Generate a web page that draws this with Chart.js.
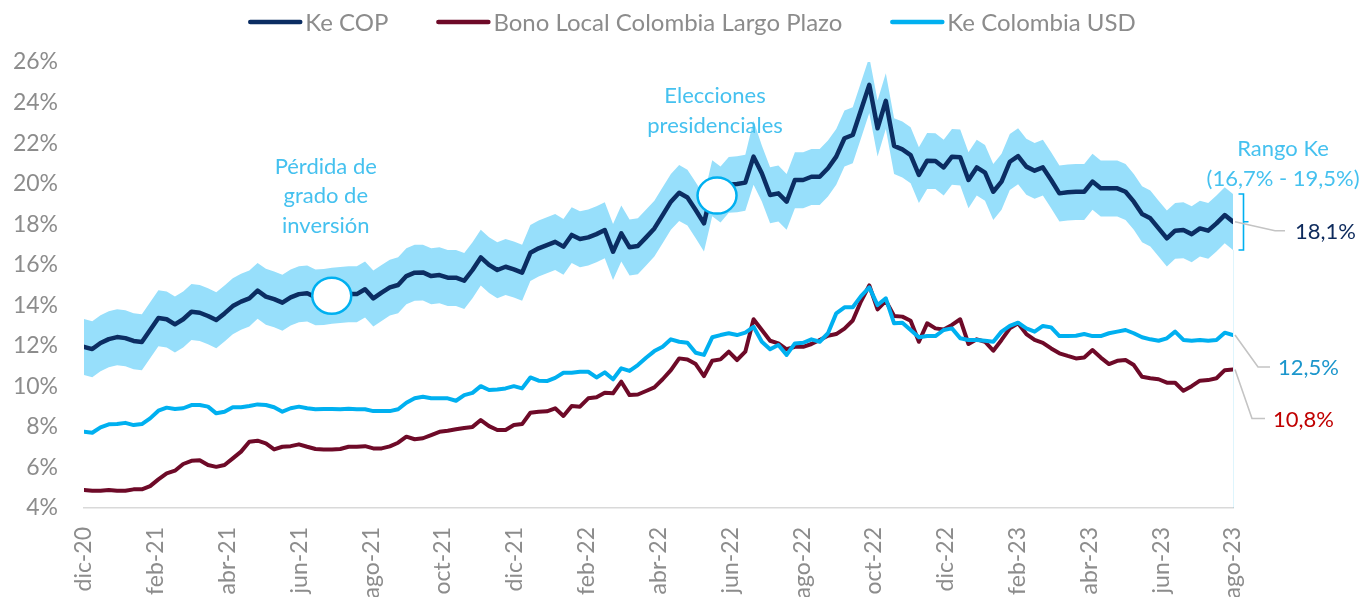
<!DOCTYPE html>
<html><head><meta charset="utf-8">
<script src="https://cdn.jsdelivr.net/npm/chart.js@4.4.1/dist/chart.umd.min.js"></script>
<style>html,body{margin:0;padding:0;background:#fff;overflow:hidden}#wrap{width:1361px;height:597px;position:relative}</style>
</head><body><div id="wrap"><canvas id="c"></canvas></div>
<script>
const monthLabels = ['dic-20','feb-21','abr-21','jun-21','ago-21','oct-21','dic-21','feb-22','abr-22','jun-22','ago-22','oct-22','dic-22','feb-23','abr-23','jun-23','ago-23'];
const spanMonths = 32;

const keCOP = [11.95,11.84,12.14,12.33,12.43,12.38,12.24,12.19,12.78,13.37,
13.31,13.06,13.31,13.68,13.63,13.47,13.27,13.60,13.96,14.18,
14.34,14.72,14.43,14.30,14.13,14.39,14.55,14.59,14.40,14.42,
14.48,14.52,14.55,14.55,14.79,14.34,14.62,14.88,15.00,15.44,
15.61,15.62,15.44,15.49,15.36,15.36,15.21,15.74,16.36,15.99,
15.74,15.90,15.77,15.61,16.59,16.81,16.97,17.13,16.89,17.47,
17.27,17.35,17.51,17.71,16.64,17.55,16.86,16.92,17.35,17.79,
18.45,19.11,19.55,19.32,18.70,18.04,19.78,19.47,19.95,19.98,
20.05,21.33,20.51,19.44,19.52,19.11,20.18,20.18,20.34,20.34,
20.76,21.33,22.24,22.40,23.63,24.87,22.73,24.08,21.86,21.69,
21.41,20.43,21.13,21.12,20.80,21.33,21.30,20.18,20.80,20.54,
19.60,20.10,21.08,21.36,20.84,20.64,20.80,20.18,19.52,19.57,
19.60,19.60,20.10,19.77,19.77,19.77,19.60,19.11,18.50,18.29,
17.79,17.30,17.68,17.71,17.51,17.79,17.68,18.04,18.45,18.12];

const rangoAlto = [13.32,13.21,13.51,13.70,13.80,13.75,13.61,13.56,14.15,14.74,
14.68,14.43,14.68,15.05,15.00,14.84,14.64,14.97,15.33,15.55,
15.71,16.09,15.80,15.67,15.50,15.76,15.92,15.96,15.77,15.79,
15.85,15.89,15.92,15.92,16.16,15.71,15.99,16.25,16.37,16.81,
16.98,16.99,16.81,16.86,16.73,16.73,16.58,17.11,17.73,17.36,
17.11,17.27,17.14,16.98,17.96,18.18,18.34,18.50,18.26,18.84,
18.64,18.72,18.88,19.08,18.01,18.92,18.23,18.29,18.72,19.16,
19.82,20.48,20.92,20.69,20.07,19.41,21.15,20.84,21.32,21.35,
21.42,23.10,21.88,20.81,20.89,20.48,21.55,21.55,21.71,21.71,
22.13,22.70,23.61,23.77,25.00,26.24,24.10,25.45,23.23,23.06,
22.78,21.80,22.50,22.49,22.17,22.70,22.67,21.55,22.17,21.91,
20.97,21.47,22.45,22.73,22.21,22.01,22.17,21.55,20.89,20.94,
20.97,20.97,21.47,21.14,21.14,21.14,20.97,20.48,19.87,19.66,
19.16,18.67,19.05,19.08,18.88,19.16,19.05,19.41,19.82,19.49];

const rangoBajo = [10.56,10.45,10.75,10.94,11.04,10.99,10.85,10.80,11.39,11.98,
11.92,11.67,11.92,12.29,12.24,12.08,11.88,12.21,12.57,12.79,
12.95,13.33,13.04,12.91,12.74,13.00,13.16,13.20,13.01,13.03,
13.09,13.13,13.16,13.16,13.40,12.95,13.23,13.49,13.61,14.05,
14.22,14.23,14.05,14.10,13.97,13.97,13.82,14.35,14.97,14.60,
14.35,14.51,14.38,14.22,15.20,15.42,15.58,15.74,15.50,16.08,
15.88,15.96,16.12,16.32,15.25,16.16,15.47,15.53,15.96,16.40,
17.06,17.72,18.16,17.93,17.31,16.65,18.39,18.08,18.56,18.59,
18.66,19.94,19.12,18.05,18.13,17.72,18.79,18.79,18.95,18.95,
19.37,19.94,20.85,21.01,22.24,23.48,21.34,22.69,20.47,20.30,
20.02,19.04,19.74,19.73,19.41,19.94,19.91,18.79,19.41,19.15,
18.21,18.71,19.69,19.97,19.45,19.25,19.41,18.79,18.13,18.18,
18.21,18.21,18.71,18.38,18.38,18.38,18.21,17.72,17.11,16.90,
16.40,15.91,16.29,16.32,16.12,16.40,16.29,16.65,17.06,16.73];

const keUSD = [7.76,7.71,7.98,8.13,8.14,8.20,8.09,8.14,8.42,8.80,
8.95,8.88,8.92,9.08,9.08,9.00,8.67,8.75,8.97,8.97,
9.03,9.11,9.08,8.97,8.75,8.92,9.00,8.92,8.87,8.88,
8.88,8.87,8.90,8.87,8.87,8.78,8.78,8.78,8.87,9.19,
9.41,9.49,9.41,9.41,9.41,9.29,9.57,9.68,10.01,9.82,
9.85,9.90,10.01,9.90,10.44,10.28,10.26,10.42,10.67,10.67,
10.72,10.72,10.44,10.69,10.35,10.89,10.76,11.05,11.41,11.74,
11.95,12.32,12.20,12.15,11.66,11.55,12.42,12.53,12.62,12.53,
12.65,12.94,12.20,11.83,12.04,11.55,12.12,12.15,12.32,12.20,
12.62,13.60,13.90,13.90,14.45,14.88,14.01,14.34,13.11,13.14,
12.78,12.42,12.48,12.48,12.78,12.86,12.37,12.29,12.29,12.25,
12.20,12.70,12.98,13.14,12.86,12.70,12.98,12.91,12.48,12.48,
12.50,12.58,12.48,12.48,12.62,12.70,12.78,12.62,12.42,12.32,
12.25,12.37,12.70,12.29,12.25,12.29,12.25,12.29,12.65,12.53];

const bonoLocal = [4.89,4.85,4.85,4.89,4.85,4.85,4.92,4.92,5.08,5.41,
5.71,5.84,6.17,6.33,6.36,6.12,6.03,6.12,6.45,6.78,
7.27,7.32,7.19,6.89,7.02,7.05,7.14,7.02,6.91,6.89,
6.89,6.91,7.02,7.02,7.05,6.94,6.94,7.04,7.22,7.52,
7.39,7.44,7.60,7.76,7.81,7.88,7.95,8.00,8.34,8.04,
7.85,7.85,8.09,8.14,8.70,8.75,8.77,8.92,8.54,9.03,
9.00,9.41,9.46,9.69,9.66,10.23,9.57,9.60,9.77,9.95,
10.35,10.80,11.38,11.33,11.10,10.51,11.26,11.33,11.71,11.30,
11.71,13.31,12.78,12.25,12.12,11.83,11.95,11.95,12.09,12.29,
12.50,12.58,12.85,13.25,14.20,14.98,13.80,14.22,13.47,13.44,
13.24,12.20,13.11,12.86,12.81,13.03,13.31,12.09,12.32,12.20,
11.76,12.29,12.86,13.11,12.58,12.29,12.15,11.87,11.63,11.50,
11.38,11.42,11.79,11.42,11.10,11.26,11.30,11.05,10.47,10.40,
10.35,10.18,10.18,9.78,10.01,10.28,10.31,10.40,10.80,10.83];

const seriesNames = ['Ke COP','Bono Local Colombia Largo Plazo','Ke Colombia USD'];
const eventNotes = [
  {x: 6.9, y: 14.47, lines: ['Pérdida de','grado de','inversión'], dx: -6},
  {x: 17.63, y: 19.41, lines: ['Elecciones','presidenciales'], dx: -2}
];

const C_NAVY = '#0b2d62', C_MAROON = '#6e0a28', C_CYAN = '#00b0f0', C_BAND = '#97dffb';
const C_NOTE = '#45c1ef', C_GRAY = '#8c8c8c';
const FONT = 'Lato';

const xAt = i => i * spanMonths / (keCOP.length - 1);
const pts = arr => arr.map((v, i) => ({x: xAt(i), y: v}));
const pct = v => v.toFixed(1).replace('.', ',') + '%';

Chart.defaults.font.family = FONT;

const annot = {
  id: 'annot',
  afterDraw(chart) {
    const ctx = chart.ctx, xs = chart.scales.x, ys = chart.scales.y, ca = chart.chartArea;
    const last = keCOP.length - 1;
    ctx.save();
    // faint right edge
    ctx.strokeStyle = 'rgba(0,176,240,0.13)';
    ctx.lineWidth = 1;
    ctx.beginPath();
    ctx.moveTo(ca.right + 0.5, ys.getPixelForValue(rangoBajo[last]));
    ctx.lineTo(ca.right + 0.5, ca.bottom);
    ctx.stroke();

    // legend
    const items = [[seriesNames[0], C_NAVY], [seriesNames[1], C_MAROON], [seriesNames[2], C_CYAN]];
    ctx.font = '24px ' + FONT;
    const lineLen = 52, gap = 5, spacing = 48;
    const widths = items.map(it => lineLen + gap + ctx.measureText(it[0]).width);
    const total = widths.reduce((a, b) => a + b, 0) + spacing * (items.length - 1);
    let lx = 692 - total / 2;
    const ly = 22;
    ctx.textBaseline = 'middle';
    ctx.textAlign = 'left';
    items.forEach((it, k) => {
      ctx.strokeStyle = it[1];
      ctx.lineWidth = 4.5;
      ctx.lineCap = 'round';
      ctx.beginPath();
      ctx.moveTo(lx + 2, ly);
      ctx.lineTo(lx + lineLen, ly);
      ctx.stroke();
      ctx.fillStyle = C_GRAY;
      ctx.fillText(it[0], lx + lineLen + gap, ly + 1);
      lx += widths[k] + spacing;
    });

    // event circles + notes
    eventNotes.forEach(n => {
      const cx = xs.getPixelForValue(n.x), cy = ys.getPixelForValue(n.y);
      ctx.beginPath();
      ctx.ellipse(cx, cy, 19.5, 18, 0, 0, Math.PI * 2);
      ctx.fillStyle = '#fff';
      ctx.fill();
      ctx.strokeStyle = C_CYAN;
      ctx.lineWidth = 2.5;
      ctx.stroke();
      ctx.font = '22px ' + FONT;
      ctx.fillStyle = C_NOTE;
      ctx.textAlign = 'center';
      const L = n.lines.length;
      n.lines.forEach((t, k) => {
        ctx.fillText(t, cx + n.dx, cy - 70 - (L - 1 - k) * 29.5);
      });
    });

    // range bracket
    const yTop = ys.getPixelForValue(rangoAlto[last]);
    const yBot = ys.getPixelForValue(rangoBajo[last]);
    const yMid = ys.getPixelForValue(keCOP[last]);
    const bx = ca.right + 10.5;
    ctx.strokeStyle = C_CYAN;
    ctx.lineWidth = 1.6;
    ctx.lineCap = 'butt';
    ctx.beginPath();
    ctx.moveTo(bx - 5, yTop); ctx.lineTo(bx, yTop); ctx.lineTo(bx, yBot); ctx.lineTo(bx - 5, yBot);
    ctx.moveTo(bx, yMid); ctx.lineTo(bx + 5, yMid);
    ctx.stroke();
    ctx.font = '22px ' + FONT;
    ctx.fillStyle = C_NOTE;
    ctx.textAlign = 'center';
    ctx.fillText('Rango Ke', ca.right + 50, yTop - 45);
    ctx.fillText('(' + pct(rangoBajo[last]) + ' - ' + pct(rangoAlto[last]) + ')', ca.right + 50, yTop - 15);

    // end-value leaders and labels
    const ends = [
      {v: keCOP[last], color: '#0d2a5c', dy: 9, run: 42, flat: 10, tx: 62},
      {v: keUSD[last], color: '#1b96cc', dy: 32, run: 25, flat: 12, tx: 45},
      {v: bonoLocal[last], color: '#c00000', dy: 49, run: 19, flat: 13, tx: 40}
    ];
    ends.forEach(e => {
      const y0 = ys.getPixelForValue(e.v);
      ctx.strokeStyle = '#c4c4c4';
      ctx.lineWidth = 1.6;
      ctx.beginPath();
      ctx.moveTo(ca.right + 2, y0);
      ctx.lineTo(ca.right + e.run, y0 + e.dy);
      ctx.lineTo(ca.right + e.run + e.flat, y0 + e.dy);
      ctx.stroke();
      ctx.fillStyle = e.color;
      ctx.textAlign = 'left';
      ctx.font = '22px ' + FONT;
      ctx.fillText(pct(e.v), ca.right + e.tx, y0 + e.dy + 1);
    });
    ctx.restore();
  }
};

new Chart(document.getElementById('c'), {
  type: 'line',
  data: {
    datasets: [
      {label: seriesNames[0], data: pts(keCOP), borderColor: C_NAVY, borderWidth: 4.5, order: 0},
      {label: seriesNames[1], data: pts(bonoLocal), borderColor: C_MAROON, borderWidth: 4, order: 2},
      {label: seriesNames[2], data: pts(keUSD), borderColor: C_CYAN, borderWidth: 4, order: 1},
      {label: 'Rango alto', data: pts(rangoAlto), borderColor: 'rgba(0,0,0,0)', borderWidth: 0, backgroundColor: C_BAND, fill: '+1', order: 3},
      {label: 'Rango bajo', data: pts(rangoBajo), borderColor: 'rgba(0,0,0,0)', borderWidth: 0, fill: false, order: 3}
    ]
  },
  options: {
    responsive: true,
    maintainAspectRatio: false,
    animation: false,
    devicePixelRatio: 1,
    elements: {
      point: {radius: 0, hoverRadius: 0},
      line: {tension: 0, borderJoinStyle: 'round', borderCapStyle: 'round'}
    },
    layout: {padding: {top: 62, right: 128, left: 0, bottom: 0}},
    plugins: {legend: {display: false}, tooltip: {enabled: false}},
    scales: {
      x: {
        type: 'linear', min: 0, max: spanMonths,
        grid: {display: false, drawTicks: false},
        border: {display: true, color: '#d9d9d9', width: 1.5},
        afterBuildTicks: s => { s.ticks = monthLabels.map((l, k) => ({value: k * 2})); },
        afterFit: s => { s.height = 89; },
        ticks: {
          autoSkip: false, maxRotation: 90, minRotation: 90, padding: 19,
          color: C_GRAY, font: {size: 23, family: FONT},
          callback: v => monthLabels[Math.round(v / 2)]
        }
      },
      y: {
        min: 4, max: 26,
        grid: {display: false, drawTicks: false},
        border: {display: false},
        afterBuildTicks: s => { const t = []; for (let v = 4; v <= 26; v += 2) t.push({value: v}); s.ticks = t; },
        afterFit: s => { s.width = 84; },
        ticks: {padding: 26, color: C_GRAY, font: {size: 23, family: FONT}, callback: v => v + '%'}
      }
    }
  },
  plugins: [annot]
});
</script>
</body></html>
